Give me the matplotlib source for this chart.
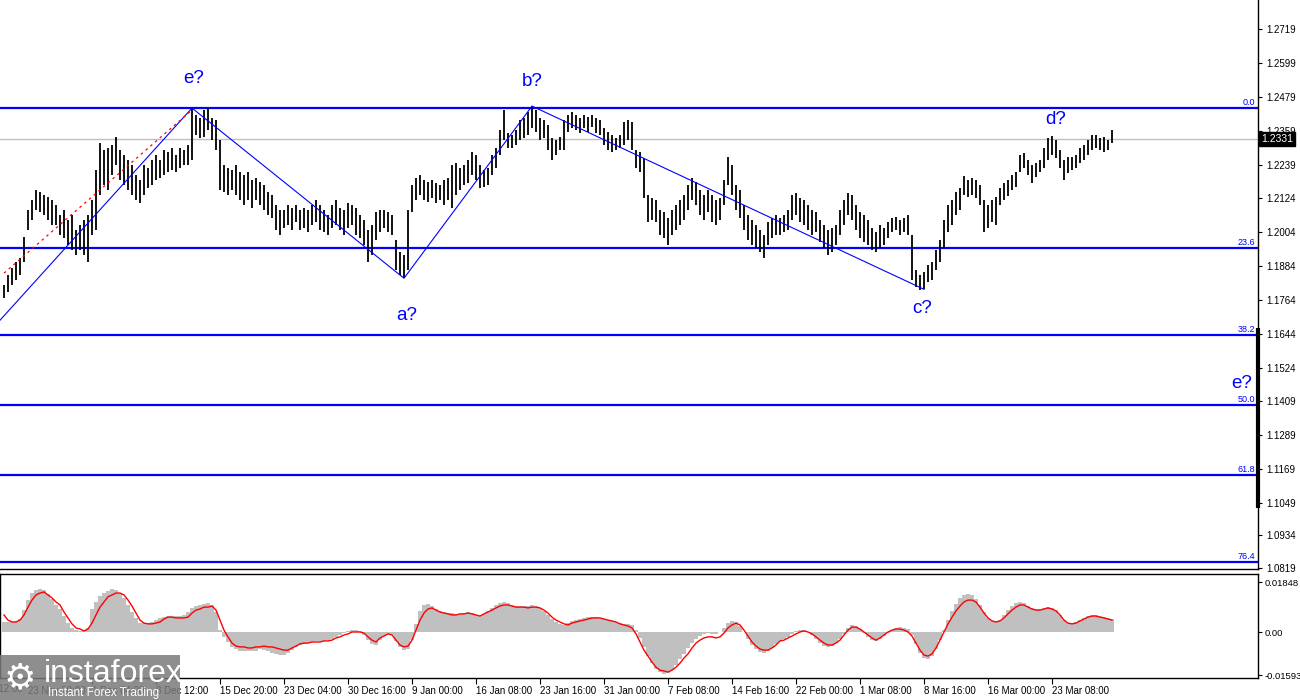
import numpy as np
import matplotlib.pyplot as plt
import matplotlib.transforms as mtransforms
from matplotlib.patches import Rectangle

plt.rcParams['font.family'] = ['Liberation Sans', 'DejaVu Sans']

# H4-ish bars, prices in 1e-4
highs = [11815, 11851, 11875, 11897, 11910, 11985, 12080, 12115, 12151, 12144,
         12133, 12126, 12115, 12098, 12062, 12080, 12045, 12062, 12009, 12027,
         12045, 12062, 12115, 12221, 12317, 12292, 12299, 12309, 12338, 12292,
         12274, 12257, 12239, 12204, 12186, 12239, 12228, 12257, 12274, 12257,
         12292, 12285, 12299, 12274, 12299, 12292, 12309, 12440, 12415, 12405,
         12433, 12440, 12405, 12398, 12327, 12239, 12228, 12221, 12239, 12214,
         12204, 12214, 12186, 12193, 12179, 12168, 12144, 12133, 12098, 12080,
         12080, 12098, 12087, 12098, 12080, 12087, 12080, 12098, 12115, 12098,
         12080, 12062, 12098, 12115, 12087, 12080, 12105, 12098, 12087, 12062,
         12045, 12009, 12027, 12073, 12080, 12080, 12073, 12062, 11974, 11932,
         11921, 12080, 12168, 12193, 12204, 12186, 12179, 12186, 12175, 12168,
         12186, 12193, 12239, 12246, 12228, 12239, 12257, 12285, 12274, 12239,
         12221, 12228, 12274, 12299, 12362, 12433, 12352, 12345, 12362, 12398,
         12405, 12426, 12447, 12433, 12405, 12398, 12380, 12334, 12327, 12338,
         12398, 12415, 12426, 12415, 12405, 12415, 12408, 12415, 12405, 12398,
         12369, 12355, 12345, 12334, 12345, 12391, 12398, 12391, 12292, 12285,
         12264, 12133, 12122, 12115, 12080, 12073, 12052, 12080, 12098, 12115,
         12133, 12168, 12193, 12179, 12151, 12133, 12151, 12133, 12115, 12122,
         12186, 12267, 12239, 12168, 12151, 12098, 12062, 12045, 12027, 12009,
         11992, 12038, 12052, 12062, 12052, 12062, 12080, 12133, 12140, 12122,
         12115, 12098, 12080, 12073, 12045, 12027, 12009, 12016, 12027, 12080,
         12115, 12140, 12133, 12098, 12073, 12062, 12045, 12016, 12002, 12027,
         12016, 12038, 12052, 12055, 12045, 12052, 12062, 11992, 11868, 11851,
         11861, 11886, 11897, 11939, 11974, 12045, 12098, 12115, 12144, 12158,
         12201, 12186, 12193, 12186, 12168, 12115, 12098, 12115, 12126, 12158,
         12175, 12186, 12204, 12214, 12274, 12281, 12257, 12239, 12246, 12257,
         12299, 12334, 12341, 12327, 12292, 12257, 12267, 12267, 12274, 12299,
         12309, 12327, 12345, 12345, 12334, 12338, 12327, 12362]
lows = [11770, 11790, 11815, 11833, 11851, 11897, 12010, 12045, 12080, 12073,
        12062, 12045, 12027, 12027, 11992, 11981, 11957, 11939, 11921, 11939,
        11921, 11897, 11992, 12009, 12133, 12168, 12151, 12204, 12239, 12186,
        12168, 12151, 12133, 12115, 12105, 12133, 12158, 12168, 12186, 12193,
        12204, 12214, 12221, 12214, 12228, 12239, 12239, 12257, 12345, 12334,
        12338, 12362, 12327, 12292, 12151, 12144, 12133, 12151, 12133, 12115,
        12098, 12115, 12087, 12115, 12098, 12080, 12062, 12052, 12009, 11992,
        12016, 12027, 12009, 12038, 12009, 12016, 12002, 12027, 12038, 12009,
        12002, 11992, 12016, 12027, 12009, 11992, 12016, 12027, 11992, 11981,
        11957, 11897, 11921, 11974, 12002, 12016, 12002, 11992, 11868, 11851,
        11840, 11868, 12073, 12115, 12133, 12115, 12108, 12122, 12105, 12115,
        12098, 12115, 12087, 12133, 12151, 12168, 12175, 12204, 12186, 12158,
        12161, 12168, 12204, 12228, 12274, 12327, 12299, 12299, 12309, 12327,
        12334, 12345, 12370, 12355, 12327, 12334, 12292, 12257, 12274, 12292,
        12292, 12355, 12370, 12362, 12352, 12370, 12355, 12373, 12352, 12345,
        12309, 12292, 12285, 12292, 12299, 12309, 12327, 12292, 12228, 12214,
        12122, 12038, 12045, 12038, 11992, 11981, 11957, 11992, 12009, 12027,
        12045, 12080, 12115, 12098, 12062, 12045, 12073, 12038, 12027, 12045,
        12098, 12168, 12133, 12080, 12052, 12009, 11974, 11957, 11946, 11932,
        11911, 11957, 11981, 11992, 11992, 12002, 12009, 12045, 12062, 12038,
        12027, 12009, 11992, 12002, 11967, 11946, 11921, 11932, 11957, 11992,
        12027, 12062, 12045, 12009, 11981, 11967, 11957, 11939, 11932, 11946,
        11957, 11981, 12002, 12009, 11992, 12002, 11992, 11833, 11808, 11798,
        11801, 11826, 11833, 11868, 11897, 11946, 12002, 12027, 12062, 12080,
        12133, 12126, 12133, 12122, 12098, 12002, 12016, 12038, 12027, 12098,
        12115, 12129, 12151, 12161, 12214, 12228, 12204, 12175, 12196, 12214,
        12228, 12257, 12274, 12264, 12228, 12186, 12211, 12221, 12228, 12246,
        12257, 12274, 12292, 12299, 12292, 12285, 12292, 12317]
last_price = 1.2331

# MACD panel, 1e-4
macd_hist = [37, 37, 37, 40, 48, 80, 118, 144, 155, 159,
             155, 140, 122, 100, 85, 59, 33, 15, 7, 4,
             7, 15, 85, 111, 133, 144, 150, 159, 155, 144,
             126, 100, 74, 52, 33, 33, 33, 37, 44, 52,
             55, 59, 59, 59, 59, 63, 74, 89, 96, 100,
             104, 107, 100, 74, 7, -18, -37, -55, -63, -70,
             -70, -70, -70, -70, -63, -67, -72, -78, -81, -85,
             -85, -78, -66, -55, -48, -44, -41, -37, -35, -33,
             -33, -30, -26, -18, -11, -4, 4, 7, 7, 4,
             -11, -30, -44, -48, -30, -15, -7, -11, -35, -55,
             -67, -63, -30, 30, 78, 100, 104, 96, 85, 78,
             74, 70, 70, 67, 67, 70, 74, 70, 63, 59,
             67, 78, 89, 100, 107, 111, 107, 100, 96, 96,
             96, 96, 100, 96, 89, 78, 63, 48, 37, 30,
             26, 33, 41, 44, 48, 52, 55, 55, 55, 52,
             48, 44, 41, 37, 33, 30, 30, 26, 7, -22,
             -55, -89, -115, -137, -148, -155, -152, -141, -122, -100,
             -81, -59, -41, -26, -15, -7, -4, -7, -7, 0,
             15, 33, 41, 37, 22, 0, -26, -48, -63, -74,
             -78, -70, -59, -44, -33, -26, -18, -7, 4, 7,
             7, 0, -11, -26, -41, -52, -55, -52, -41, -26,
             -7, 15, 26, 22, 11, -4, -18, -30, -33, -26,
             -15, -4, 7, 15, 18, 15, 11, -11, -44, -78,
             -96, -100, -89, -63, -30, 7, 44, 78, 104, 126,
             137, 141, 137, 122, 100, 74, 52, 41, 37, 44,
             63, 81, 96, 107, 111, 107, 96, 89, 85, 85,
             89, 92, 89, 81, 63, 44, 33, 30, 37, 44,
             52, 59, 63, 63, 59, 55, 52, 48]
macd_signal = [63, 44, 37, 37, 44, 63, 92, 118, 137, 144,
               148, 137, 126, 111, 100, 74, 52, 30, 15, 11,
               4, 11, 33, 63, 92, 111, 130, 137, 144, 144,
               137, 118, 96, 70, 44, 33, 30, 30, 33, 37,
               48, 55, 55, 52, 52, 52, 55, 70, 81, 85,
               92, 92, 96, 81, 44, 7, -18, -41, -52, -55,
               -55, -59, -59, -55, -55, -52, -55, -55, -59, -63,
               -67, -67, -59, -52, -44, -41, -41, -37, -37, -37,
               -33, -33, -30, -22, -18, -11, -7, 0, 0, 0,
               -4, -18, -30, -37, -22, -15, -7, -11, -30, -48,
               -55, -52, -30, 7, 44, 70, 85, 89, 81, 74,
               70, 67, 63, 63, 67, 67, 70, 67, 63, 59,
               67, 74, 81, 89, 96, 100, 100, 96, 92, 92,
               92, 89, 92, 92, 89, 81, 70, 55, 44, 37,
               30, 26, 33, 37, 41, 44, 48, 52, 52, 52,
               48, 44, 41, 37, 30, 26, 22, 15, -7, -37,
               -67, -89, -111, -130, -141, -144, -148, -141, -130, -115,
               -96, -81, -59, -41, -30, -22, -18, -18, -22, -18,
               -4, 15, 26, 33, 26, 7, -15, -37, -52, -63,
               -67, -67, -59, -48, -33, -30, -22, -15, -7, 0,
               4, 0, -7, -18, -30, -41, -48, -48, -41, -30,
               -11, 7, 18, 18, 11, 0, -11, -22, -30, -22,
               -11, 0, 7, 11, 11, 7, 0, -15, -41, -67,
               -85, -89, -81, -59, -30, 0, 30, 55, 78, 96,
               111, 118, 118, 111, 92, 70, 52, 41, 37, 41,
               52, 67, 81, 92, 100, 100, 92, 85, 81, 81,
               85, 89, 85, 78, 63, 44, 33, 30, 33, 41,
               48, 55, 59, 59, 55, 52, 48, 44]

# fibo grid
fib_high = 1.2440
fib_low = 1.0347
fib_levels = [0.0, 23.6, 38.2, 50.0, 61.8, 76.4]

# wave count
wave_bars = [-1, 47, 100, 132, 230]
wave_prices = [1.1692, 1.2440, 1.1840, 1.2447, 1.1801]
channel_bars = [0, 47]
channel_prices = [1.1858, 1.2433]
wave_labels = ['e?', 'a?', 'b?', 'c?', 'd?', 'e?']
label_bars = [47.3, 100.8, 132, 229.5, 262.8, 309.5]
label_prices = [1.2546, 1.1709, 1.2532, 1.1734, 1.2398, 1.1469]

price_ticks = [1.2719, 1.2599, 1.2479, 1.2359, 1.2239, 1.2124, 1.2004, 1.1884, 1.1764,
               1.1644, 1.1524, 1.1409, 1.1289, 1.1169, 1.1049, 1.0934, 1.0819]
macd_ticks = [0.01848, 0.0, -0.01593]
date_labels = ['16 Nov 12:00', '23 Nov 20:00', '1 Dec 04:00', '8 Dec 12:00', '15 Dec 20:00',
               '23 Dec 04:00', '30 Dec 16:00', '9 Jan 00:00', '16 Jan 08:00', '23 Jan 16:00',
               '31 Jan 00:00', '7 Feb 08:00', '14 Feb 16:00', '22 Feb 00:00', '1 Mar 08:00',
               '8 Mar 16:00', '16 Mar 00:00', '23 Mar 08:00']
date_first_bar = -10
date_step = 16

BLUE = '#0000ff'
XMIN, XMAX = -1, 313.5

fig = plt.figure(figsize=(13, 7), dpi=100)
ax = fig.add_axes([0, 131 / 700, 1258 / 1300, 569 / 700])
axm = fig.add_axes([0, 22 / 700, 1258 / 1300, 104 / 700])

idx = np.arange(len(highs))
hi = np.array(highs) / 10000
lo = np.array(lows) / 10000

ax.axhline(last_price, color='#c0c0c0', lw=1, zorder=1)
bt = mtransforms.blended_transform_factory(ax.transAxes, ax.transData)
for lev in fib_levels:
    p = fib_high - (fib_high - fib_low) * lev / 100
    ax.axhline(p, color=BLUE, lw=1.6, zorder=2)
    ax.text(0.998, p + 0.0004, '%.1f' % lev, transform=bt,
            ha='right', va='bottom', fontsize=6.5, color=BLUE)

ax.vlines(idx, lo, hi, color='black', lw=1.3, zorder=3)
ax.plot(wave_bars, wave_prices, color=BLUE, lw=0.8, zorder=4)
ax.plot(channel_bars, channel_prices, color='red', lw=0.9, ls=(0, (2, 3)), zorder=4)
for t, b, p in zip(wave_labels, label_bars, label_prices):
    ax.text(b, p, t, color=BLUE, fontsize=13.5, ha='center', va='center', zorder=5)

ax.set_xlim(XMIN, XMAX)
ax.set_ylim(1.0815, 1.2821)
ax.yaxis.tick_right()
ax.set_yticks(price_ticks)
ax.set_yticklabels(['%.4f' % v for v in price_ticks])
ax.tick_params(axis='y', length=3, width=0.8, labelsize=7, pad=3, colors='black')
ax.tick_params(axis='x', bottom=False, labelbottom=False)
for s in ['top', 'left']:
    ax.spines[s].set_visible(False)
ax.spines['right'].set_linewidth(1.0)
ax.spines['bottom'].set_linewidth(1.0)

ax.plot([1, 1], [1.1663, 1.1031], transform=bt, color='black', lw=3, clip_on=False,
        solid_capstyle='butt', zorder=6)
ax.text(1.0022, last_price, '%.4f' % last_price, transform=bt, ha='left', va='center',
        fontsize=7.5, color='white', zorder=10, clip_on=False,
        bbox=dict(boxstyle='square,pad=0.2', fc='black', ec='black'))

# MACD
mh = np.array(macd_hist) / 10000
ms = np.array(macd_signal) / 10000
axm.bar(idx, mh, width=1.0, color='#c0c0c0', lw=0, zorder=2)
axm.plot(idx, ms, color='red', lw=1.0, zorder=3)
axm.set_xlim(XMIN, XMAX)
axm.set_ylim(-0.0170, 0.02144)
axm.yaxis.tick_right()
axm.set_yticks(macd_ticks)
axm.set_yticklabels(['0.01848', '0.00', '-0.01593'])
axm.tick_params(axis='y', length=3, width=0.8, labelsize=6.8, pad=1.5)

# date ticks: left-aligned text starting at the tick, as in MT4
tick_pos = [date_first_bar + date_step * k for k in range(len(date_labels))]
vis = [(p, l) for p, l in zip(tick_pos, date_labels) if XMIN <= p <= XMAX]
axm.set_xticks([p for p, l in vis])
axm.set_xticklabels([l for p, l in vis])
for lbl in axm.get_xticklabels():
    lbl.set_horizontalalignment('left')
axm.tick_params(axis='x', length=4, width=0.8, labelsize=7, pad=2)
for p, l in zip(tick_pos, date_labels):
    if p < XMIN:
        axm.text(p + 0.3, -0.0170, l, ha='left', va='top', fontsize=7, clip_on=False,
                 transform=mtransforms.offset_copy(axm.transData, fig=fig, y=-6, units='dots'))
for s in axm.spines.values():
    s.set_linewidth(1.0)

# watermark
fig.patches.append(Rectangle((0, 0), 180 / 1300, 45 / 700, transform=fig.transFigure,
                             fc='#7a7a7a', ec='none', alpha=0.85, zorder=20))
fig.text(20 / 1300, 22 / 700, '\u2699', color='white', fontsize=26, ha='center', va='center',
         family='DejaVu Sans', zorder=21)
fig.text(44 / 1300, 26 / 700, 'instaforex', color='white', fontsize=23, ha='left', va='center', zorder=21)
fig.text(48 / 1300, 7 / 700, 'Instant Forex Trading', color='white', fontsize=8.5, ha='left',
         va='center', zorder=21)

fig.savefig('out.png', dpi=100)
